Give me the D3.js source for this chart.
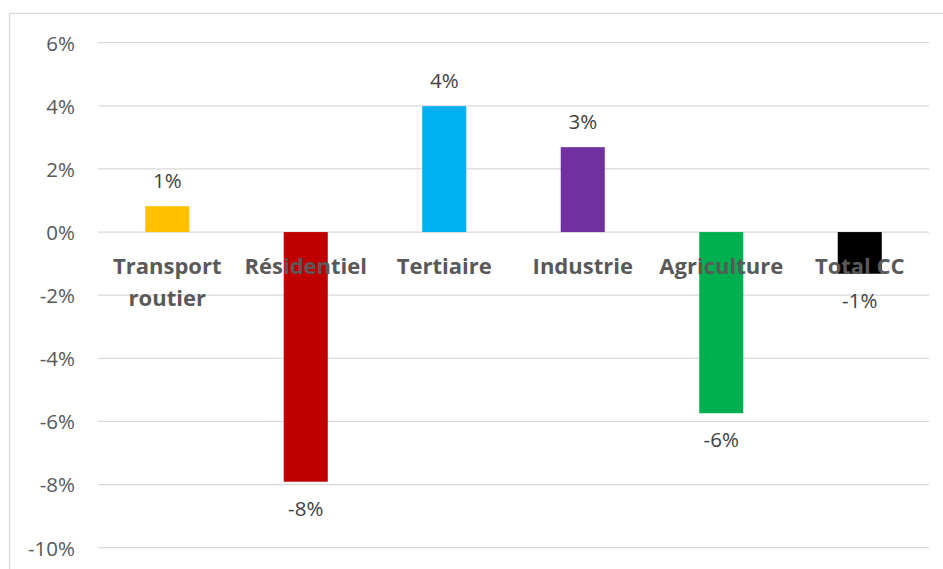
<!DOCTYPE html>
<html><head><meta charset="utf-8">
<script src="https://cdn.jsdelivr.net/npm/d3@7"></script>
<style>body{margin:0;background:#fff}svg{display:block}</style>
</head><body>
<svg id="c" width="943" height="569"></svg>
<script>
const categories = ["Transport routier","Résidentiel","Tertiaire","Industrie","Agriculture","Total CC"];
const values = [0.82, -7.91, 3.99, 2.69, -5.74, -1.32];
const dataLabels = ["1%","-8%","4%","3%","-6%","-1%"];
const colors = ["#FFC000","#C00000","#00B0F0","#7030A0","#00B050","#000000"];
const tickValues = [6,4,2,0,-2,-4,-6,-8,-10];

const svg = d3.select("#c");
const font = "'Open Sans', sans-serif";

svg.append("rect").attr("x",9.5).attr("y",13.5).attr("width",960).attr("height",600)
  .attr("fill","#fff").attr("stroke","#d9d9d9").attr("stroke-width",1.3);

const y = d3.scaleLinear().domain([-10,6]).range([547.7,42.7]);
const x = d3.scaleBand().domain(categories).range([98,929]).paddingInner(0.682).paddingOuter(0.341);

// gridlines
svg.append("g").selectAll("line").data(tickValues).join("line")
  .attr("x1",98).attr("x2",929)
  .attr("y1",d=>y(d)).attr("y2",d=>y(d))
  .attr("stroke","#d9d9d9").attr("stroke-width",1.3);

// y tick labels via axis
const yAxis = d3.axisLeft(y).tickValues(tickValues).tickSize(0).tickPadding(0).tickFormat(d=>d+"%");
const ag = svg.append("g").attr("transform","translate(75,0)").call(yAxis);
ag.select(".domain").remove();
ag.selectAll("text").attr("font-family",font).attr("font-size",20.5).attr("fill","#595959").attr("dy","0.36em");

// bars
svg.append("g").selectAll("rect").data(values).join("rect")
  .attr("x",(d,i)=>x(categories[i]))
  .attr("width",x.bandwidth())
  .attr("y",d=>y(Math.max(0,d)))
  .attr("height",d=>Math.abs(y(d)-y(0)))
  .attr("fill",(d,i)=>colors[i]);

// category labels
const cl = svg.append("g").selectAll("text").data(categories).join("text")
  .attr("x",d=>x(d)+x.bandwidth()/2)
  .attr("y",274.3)
  .attr("text-anchor","middle")
  .attr("font-family",font).attr("font-weight","bold").attr("font-size",22)
  .attr("fill","#595959");
cl.each(function(d){
  const t = d3.select(this);
  const parts = d==="Transport routier" ? ["Transport","routier"] : [d];
  parts.forEach((p,j)=>{
    t.append("tspan").attr("x",x(d)+x.bandwidth()/2).attr("dy",j===0?0:32).text(p);
  });
});

// data labels
svg.append("g").selectAll("text").data(values).join("text")
  .attr("x",(d,i)=>x(categories[i])+x.bandwidth()/2)
  .attr("y",d=> d>=0 ? y(d)-17.7 : y(d)+34)
  .attr("text-anchor","middle")
  .attr("font-family",font).attr("font-size",20.5).attr("fill","#404040")
  .text((d,i)=>dataLabels[i]);
</script>
</body></html>
